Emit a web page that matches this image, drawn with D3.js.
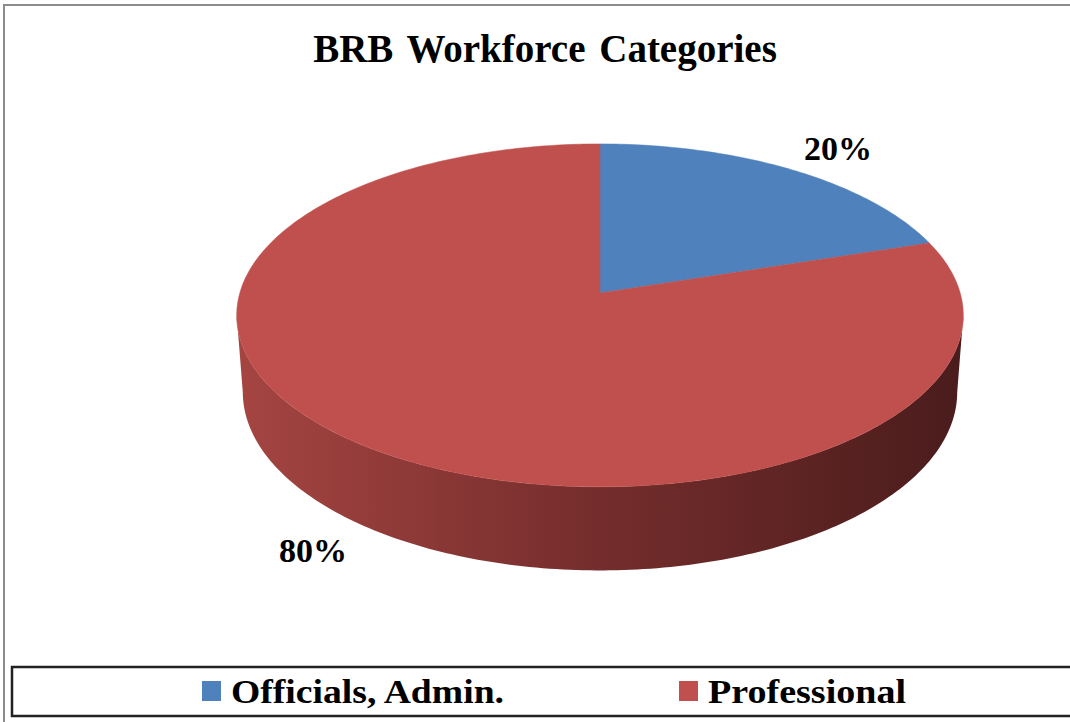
<!DOCTYPE html>
<html>
<head>
<meta charset="utf-8">
<script src="https://cdn.jsdelivr.net/npm/d3@7"></script>
<style>
  body { margin: 0; background: #fff; }
  svg text { font-family: "Liberation Serif", "Times New Roman", serif; font-weight: bold; fill: #000; }
</style>
</head>
<body>
<svg id="chart" width="1070" height="722"></svg>
<script>
// data
var categories = ["Officials, Admin.", "Professional"];
var values = [20, 80];
var pctLabels = ["20%", "80%"];
var colors = ["#4F81BD", "#C0504D"];
var titleText = "BRB Workforce Categories";

var svg = d3.select("#chart");

// outer frame
svg.append("rect")
    .attr("x", 4).attr("y", 5)
    .attr("width", 1080).attr("height", 730)
    .attr("fill", "#fff")
    .attr("stroke", "#8c8c8c").attr("stroke-width", 2);

svg.append("text")
    .attr("x", 545).attr("y", 62)
    .attr("text-anchor", "middle")
    .attr("font-size", 39)
    .style("word-spacing", "4px")
    .text(titleText);

// perspective projection for the 3d pie
var cx = 600, cy = 293, k = 2440, D = 6.774;
var tilt = 27.9 * Math.PI / 180, st = Math.sin(tilt), ct = Math.cos(tilt);
var h = 0.243;

// phi: plan angle, 0 = back, clockwise seen from above
function proj(phi, r, y) {
    var X = r * Math.sin(phi), Z = -r * Math.cos(phi);
    var yc = y * ct - Z * st;
    var w = D - (y * st + Z * ct);
    return [cx + k * X / w, cy - k * yc / w];
}

var pie = d3.pie().sort(null).value(function(d) { return d; });
var arcs = pie(values);
var line = d3.line();

function arcPts(a0, a1, y) {
    var pts = [], n = Math.max(8, Math.ceil(Math.abs(a1 - a0) * 60));
    for (var i = 0; i <= n; i++) pts.push(proj(a0 + (a1 - a0) * i / n, 1, y));
    return pts;
}

// side gradient
var defs = svg.append("defs");
var grad = defs.append("linearGradient").attr("id", "sideGrad")
    .attr("gradientUnits", "userSpaceOnUse")
    .attr("x1", 235).attr("y1", 0).attr("x2", 965).attr("y2", 0);
grad.append("stop").attr("offset", "0%").attr("stop-color", "#A54542");
grad.append("stop").attr("offset", "50%").attr("stop-color", "#742D2C");
grad.append("stop").attr("offset", "100%").attr("stop-color", "#4A1C1C");

// visible side: front half between silhouette points
var silPhi = Math.asin(ct / D); // where widest
var frontStart = Math.PI / 2 + silPhi, frontEnd = 3 * Math.PI / 2 - silPhi;
arcs.forEach(function(a, i) {
    var s = Math.max(a.startAngle, frontStart), e = Math.min(a.endAngle, frontEnd);
    if (e <= s) return;
    var pts = arcPts(s, e, 0).concat(arcPts(e, s, -h));
    svg.append("path")
        .attr("d", line(pts) + "Z")
        .attr("fill", i == 1 ? "url(#sideGrad)" : d3.color(colors[i]).darker(1));
});

// top faces
arcs.forEach(function(a, i) {
    var pts = [proj(0, 0, 0)].concat(arcPts(a.startAngle, a.endAngle, 0));
    svg.append("path")
        .attr("d", line(pts) + "Z")
        .attr("fill", colors[i])
        .attr("stroke", colors[i]).attr("stroke-width", 0.5);
});

// data labels
var labelPos = [[838, 160], [313, 562]];
pctLabels.forEach(function(t, i) {
    svg.append("text")
        .attr("x", labelPos[i][0]).attr("y", labelPos[i][1])
        .attr("text-anchor", "middle")
        .attr("font-size", 34)
        .text(t);
});

// legend
svg.append("rect")
    .attr("x", 12).attr("y", 667)
    .attr("width", 1080).attr("height", 49)
    .attr("fill", "#fff")
    .attr("stroke", "#222").attr("stroke-width", 2.5);

var legX = [202, 679], legW = [273, 198];
categories.forEach(function(c, i) {
    svg.append("rect")
        .attr("x", legX[i]).attr("y", 681)
        .attr("width", 19).attr("height", 20)
        .attr("fill", colors[i]);
    svg.append("text")
        .attr("x", legX[i] + 29).attr("y", 703)
        .attr("font-size", 34)
        .attr("textLength", legW[i])
        .attr("lengthAdjust", "spacingAndGlyphs")
        .text(c);
});
</script>
</body>
</html>
